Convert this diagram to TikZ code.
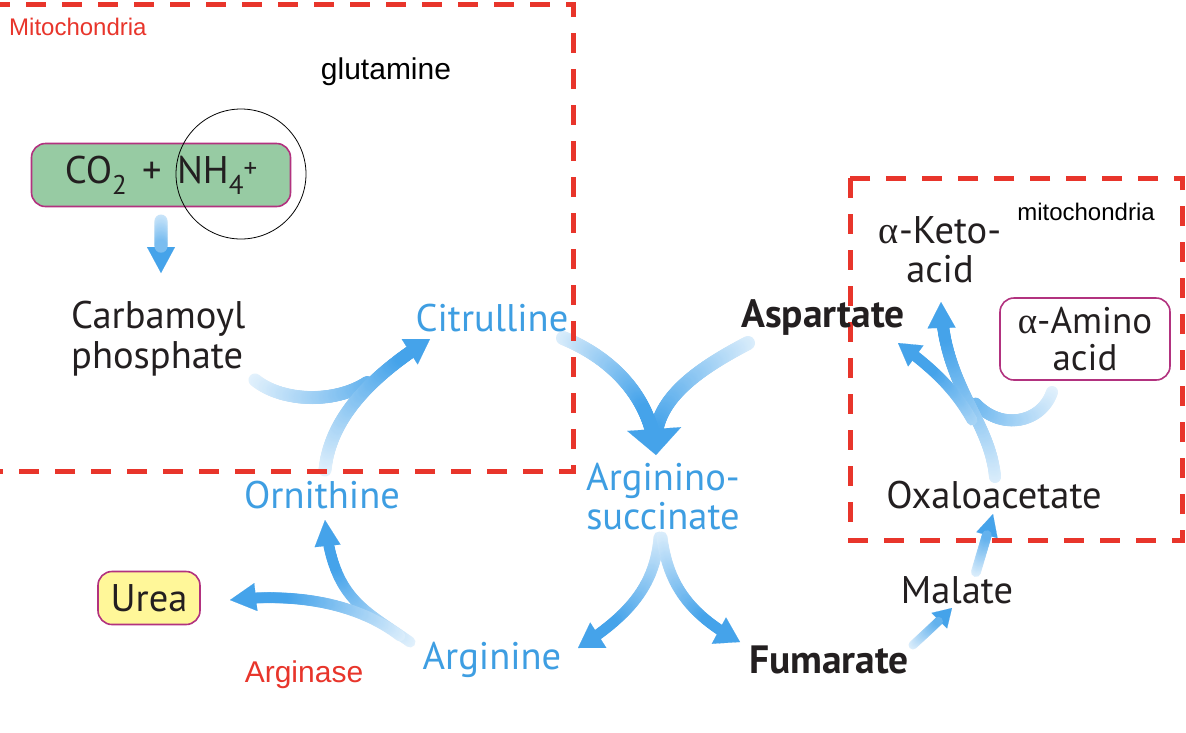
\documentclass[tikz,border=0pt]{standalone}
\usepackage{fontspec}
\setmainfont{PT Sans}
\newfontfamily\arialf{Liberation Sans}
\newfontfamily\serf{Liberation Serif}
\usetikzlibrary{decorations.markings,arrows.meta}
\definecolor{ablue}{HTML}{45A3EA}
\definecolor{alight}{HTML}{EAF5FD}
\definecolor{tblue}{HTML}{3E9EE2}
\definecolor{redd}{HTML}{E8352B}
\definecolor{gfill}{HTML}{97CBA3}
\definecolor{magb}{HTML}{B2327F}
\definecolor{yfill}{HTML}{FFF799}
\definecolor{dark}{HTML}{231F20}
\newcommand\lbl{\fontsize{38.5}{39}\selectfont}
\newcommand\lblb{\fontsize{39.5}{40}\selectfont\bfseries}
\newcommand\subn[1]{\raisebox{-0.28em}{\fontsize{27}{30}\selectfont #1}}
\newcommand\supn[1]{\raisebox{0.14em}{\fontsize{27}{30}\selectfont #1}}
% gradient arrow: #1 radius, #2 start pct, #3 factor, #4 head width, #5 head length, #6 path
\newcommand\garrow[6]{%
  \draw[white, line width=0.1pt, -{Triangle[width=#4, length=#5, color=ablue]}] #6;
  \path[decorate, decoration={markings, mark=between positions 0 and -#5 step 1.2pt with {%
     \pgfmathtruncatemacro\gp{min(100,#2+(100-#2)*\pgfkeysvalueof{/pgf/decoration/mark info/distance from start}/(#3*\pgfdecoratedpathlength))}%
     \fill[ablue!\gp!alight] (0,0) circle (#1);}}] #6;}
% gradient line without head
\newcommand\gline[4]{%
  \path[decorate, decoration={markings, mark=between positions 0 and 1 step 1.2pt with {%
     \pgfmathtruncatemacro\gp{min(100,#2+(100-#2)*\pgfkeysvalueof{/pgf/decoration/mark info/distance from start}/(#3*\pgfdecoratedpathlength))}%
     \fill[ablue!\gp!alight] (0,0) circle (#1);}}] #4;}
\begin{document}
\begin{tikzpicture}[x=1pt,y=-1pt,
  reddash/.style={draw=redd, line width=5pt, dash pattern=on 20pt off 16pt},
  blk/.style={text=dark, font=\lbl, inner sep=0pt},
  blu/.style={text=tblue, font=\lbl, inner sep=0pt},
  bold/.style={text=dark, font=\lblb, inner sep=0pt},
  arl/.style={font=\arialf\fontsize{24}{28}\selectfont, inner sep=0pt},
  pill/.style={draw=magb, line width=1.6pt, rounded corners=14pt, inner sep=0pt}]
\useasboundingbox (0,0) rectangle (1186,732);
\fill[white] (0,0) rectangle (1186,732);

% ---- named end points of connectors
\coordinate (coT) at (161,221);   \coordinate (carbH) at (161,273);
\coordinate (carbT) at (255,380); \coordinate (mergeA) at (368,382);
\coordinate (ornT) at (325,470);  \coordinate (citH) at (430,339);
\coordinate (citT) at (563,338);  \coordinate (asH) at (656,455);
\coordinate (aspT) at (748,343);  \coordinate (asM) at (656,432);
\coordinate (asT1) at (659,537);  \coordinate (argH) at (578,648);
\coordinate (asT2) at (662,537);  \coordinate (fumH) at (740,642);
\coordinate (argT1) at (410,642); \coordinate (ornH) at (325,520);
\coordinate (argT2) at (400,636); \coordinate (ureaH) at (230,600);
\coordinate (fumT) at (913,645);  \coordinate (malH) at (952,608);
\coordinate (malT) at (976,572);  \coordinate (oxH) at (993,514);
\coordinate (oxT) at (995,477);   \coordinate (ketoH) at (941,302);
\coordinate (brT) at (972,420);   \coordinate (aspH) at (898,343);
\coordinate (aminoT) at (1052,392); \coordinate (mergeB) at (975,403);

% ---- arrows
\garrow{6.5}{20}{0.8}{28pt}{26pt}{(coT) -- (carbH)}
\gline{6.5}{5}{1.3}{(carbT) .. controls (282,402) and (335,404) .. (mergeA)}
\garrow{6.5}{5}{0.8}{30pt}{24pt}{(ornT) .. controls (330,420) and (368,378) .. (citH)}
\gline{7}{10}{1.0}{(aspT) .. controls (700,368) and (662,395) .. (asM)}
\garrow{7}{10}{0.7}{54pt}{26pt}{(citT) .. controls (612,358) and (652,398) .. (asH)}
\garrow{5.5}{10}{0.7}{30pt}{24pt}{(asT1) .. controls (655,585) and (630,615) .. (argH)}
\garrow{5.5}{10}{0.7}{30pt}{24pt}{(asT2) .. controls (668,585) and (690,615) .. (fumH)}
\garrow{5.5}{5}{0.7}{26pt}{26pt}{(argT1) .. controls (365,610) and (333,600) .. (ornH)}
\garrow{5.5}{10}{0.7}{28pt}{26pt}{(argT2) .. controls (360,605) and (300,592) .. (ureaH)}
\garrow{4.5}{10}{0.8}{22pt}{18pt}{(fumT) .. controls (925,634) and (938,622) .. (malH)}
\garrow{5}{10}{0.8}{22pt}{22pt}{(malT) .. controls (980,558) and (987,535) .. (oxH)}
\gline{6}{5}{1.4}{(aminoT) .. controls (1042,422) and (1002,432) .. (mergeB)}
\garrow{6}{10}{0.8}{28pt}{26pt}{(oxT) .. controls (990,420) and (943,385) .. (ketoH)}
\garrow{5.5}{40}{0.6}{26pt}{22pt}{(brT) .. controls (955,390) and (935,370) .. (aspH)}

% ---- compartments
\draw[reddash] (-10,4) -- (573,4) -- (573,471) -- (-10,471);
\draw[reddash] (850,178) rectangle (1182,540);

% ---- labels
\node[arl, text=redd, anchor=west] (mito1) at (9,27) {Mitochondria};
\node[arl, text=black, font=\arialf\fontsize{30}{34}\selectfont] (glu) at (386,72) {glutamine};
\node[pill, fill=gfill, minimum width=259pt, minimum height=63pt, text=dark, font=\lbl] (co2) at (161,175)
  {CO\subn{2}\hspace{0.4em}+\hspace{0.4em}NH\subn{4}\supn{+}};
\draw[black, line width=0.8pt] (241,174) circle (65);
\node[blk, anchor=north west, align=left] (carb) at (71,301) {Carbamoyl\\[1pt]phosphate};
\node[blu] (cit) at (492,318) {Citrulline};
\node[blu] (orn) at (322,495) {Ornithine};
\node[blu, align=center] (as) at (663,497) {Arginino-\\succinate};
\node[bold] (asp) at (823,318) {Aspartate};
\node[blu] (arg) at (492,660) {Arginine};
\node[bold] (fum) at (829,660) {Fumarate};
\node[blk] (mal) at (957,590) {Malate};
\node[blk] (oxa) at (994,495) {Oxaloacetate};
\node[blk, align=center] (keto) at (940,250) {{\serf α}-Keto-\\acid};
\node[pill, fill=white, minimum width=170pt, minimum height=82pt, text=dark, font=\fontsize{37}{37.5}\selectfont, align=center] (amino) at (1085,339) {{\serf α}-Amino\\acid};
\node[arl, text=black] (mito2) at (1086,212) {mitochondria};
\node[pill, fill=yfill, minimum width=102pt, minimum height=53pt, text=dark, font=\lbl] (urea) at (149,598) {Urea};
\node[arl, text=redd, font=\arialf\fontsize{30}{34}\selectfont] (argase) at (304,675) {Arginase};
\end{tikzpicture}
\end{document}
